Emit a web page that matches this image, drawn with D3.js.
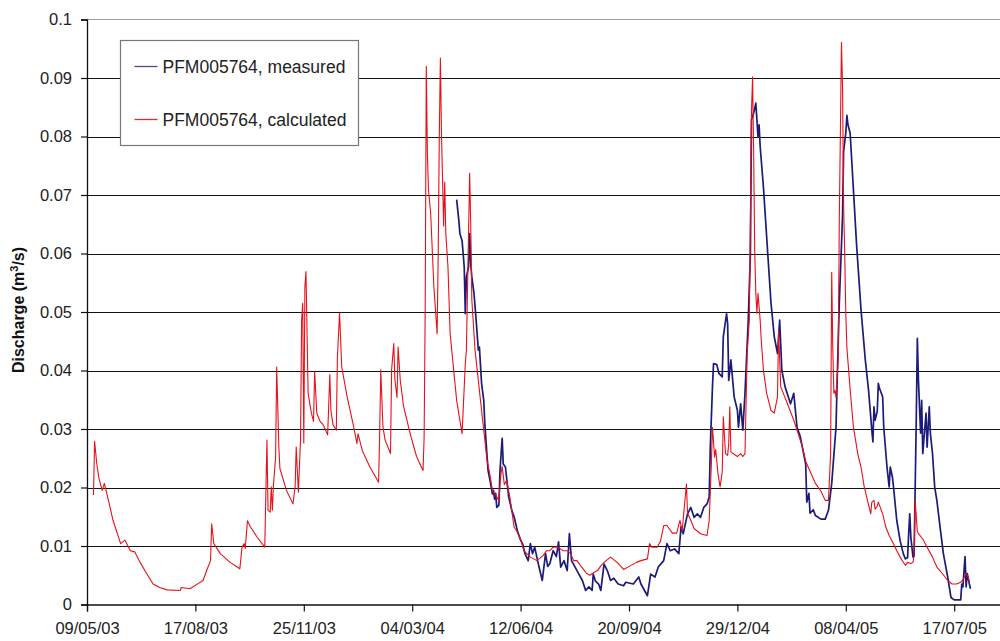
<!DOCTYPE html>
<html>
<head>
<meta charset="utf-8">
<script src="https://cdn.jsdelivr.net/npm/d3@7"></script>
<style>
  html, body { margin: 0; padding: 0; background: #fff; }
  svg { display: block; font-family: "Liberation Sans", Arial, sans-serif; }
</style>
</head>
<body>
<div id="chart"></div>
<script>
// Chart data
// x values are days since 09/05/03
const startLabel = '09/05/03';
const xTickLabels = ['09/05/03', '17/08/03', '25/11/03', '04/03/04', '12/06/04',
  '20/09/04', '29/12/04', '08/04/05', '17/07/05'];
const axisEndDay = 900; // axis runs on past the right edge of the picture
const yTicks = [0, 0.01, 0.02, 0.03, 0.04, 0.05, 0.06, 0.07, 0.08, 0.09, 0.1];
const seriesNames = ['PFM005764, measured', 'PFM005764, calculated'];
const yTitle = 'Discharge (m';

const calcDays = [6, 7, 9, 11, 14, 16, 18, 24, 31, 35, 40, 44, 49, 55, 61, 67, 74, 86, 87, 95,
  101, 107, 111, 114, 115, 117, 123, 132, 141, 143, 145, 146, 148, 151, 157, 164, 166, 167, 169, 170,
  171, 172, 174, 175, 177, 178, 184, 190, 192, 193, 195, 197, 198, 199, 200, 201, 202, 204, 207, 209,
  210, 212, 215, 218, 222, 224, 225, 227, 230, 231, 233, 235, 240, 246, 249, 250, 254, 261, 269, 270,
  271, 273, 275, 280, 281, 283, 284, 286, 287, 289, 292, 298, 304, 310, 311, 312, 313, 314, 315, 317,
  320, 323, 324, 325, 326, 327, 329, 330, 331, 333, 335, 341, 346, 349, 350, 353, 354, 355, 358, 363,
  369, 371, 374, 377, 380, 381, 382, 383, 385, 387, 390, 394, 396, 400, 403, 409, 415, 421, 424, 427,
  430, 434, 437, 439, 443, 446, 449, 452, 455, 458, 461, 464, 468, 471, 474, 477, 483, 489, 492, 495,
  501, 507, 511, 517, 519, 521, 523, 526, 529, 532, 535, 540, 544, 547, 549, 553, 554, 557, 560, 566,
  572, 574, 576, 577, 579, 580, 582, 584, 586, 587, 589, 591, 592, 593, 594, 596, 600, 603, 605, 607,
  609, 611, 612, 613, 614, 615, 616, 617, 618, 619, 621, 622, 624, 627, 631, 634, 637, 638, 640, 646,
  652, 655, 660, 663, 666, 672, 677, 681, 684, 686, 687, 688, 689, 690, 691, 693, 694, 695, 696, 697,
  698, 699, 700, 701, 704, 707, 711, 714, 717, 723, 724, 726, 727, 729, 730, 734, 737, 740, 744, 747,
  752, 755, 757, 760, 762, 763, 764, 766, 767, 771, 775, 780, 784, 789, 794, 798, 802, 806, 808, 811,
  813, 814];
const calcValues = [0.0187, 0.0279, 0.0241, 0.0216, 0.0195, 0.0207, 0.0192, 0.0144, 0.0104, 0.011,
  0.0092, 0.009, 0.0072, 0.0053, 0.0035, 0.0029, 0.0025, 0.0024, 0.0029, 0.0027,
  0.0034, 0.0041, 0.0061, 0.0075, 0.0138, 0.0104, 0.0087, 0.0072, 0.0061, 0.0098,
  0.0104, 0.0096, 0.0143, 0.0132, 0.0115, 0.0098, 0.0281, 0.0161, 0.0158, 0.0201,
  0.0161, 0.0204, 0.0252, 0.0406, 0.0268, 0.0232, 0.0195, 0.0172, 0.0201, 0.0269,
  0.0192, 0.0282, 0.0486, 0.0515, 0.0276, 0.0543, 0.0569, 0.0361, 0.0327, 0.0313,
  0.0398, 0.0327, 0.0313, 0.0307, 0.029, 0.0393, 0.0332, 0.0307, 0.0298, 0.0423,
  0.0498, 0.0406, 0.0355, 0.0304, 0.0275, 0.0292, 0.0263, 0.0235, 0.0209, 0.0293,
  0.0401, 0.0304, 0.0281, 0.0258, 0.0401, 0.0446, 0.0385, 0.0354, 0.044, 0.0383,
  0.0339, 0.0293, 0.0253, 0.0229, 0.0286, 0.0508, 0.092, 0.0771, 0.0709, 0.067,
  0.0543, 0.0463, 0.06, 0.08, 0.0934, 0.0806, 0.0647, 0.0722, 0.0634, 0.0577,
  0.0463, 0.0349, 0.0292, 0.0412, 0.0434, 0.0737, 0.065, 0.0521, 0.0434, 0.0349,
  0.0247, 0.0229, 0.0195, 0.0187, 0.0178, 0.0207, 0.0224, 0.0236, 0.0205, 0.0212,
  0.0185, 0.0132, 0.0127, 0.0112, 0.0092, 0.0081, 0.0075, 0.0084, 0.0092, 0.0092,
  0.0098, 0.0098, 0.0095, 0.0092, 0.0092, 0.0087, 0.0075, 0.0075, 0.0067, 0.006,
  0.0053, 0.005, 0.0055, 0.0058, 0.0066, 0.0072, 0.0081, 0.0072, 0.0066, 0.006,
  0.0066, 0.0072, 0.0075, 0.0078, 0.0104, 0.0098, 0.0098, 0.0098, 0.0108, 0.0135,
  0.0135, 0.0122, 0.0122, 0.0144, 0.0125, 0.0206, 0.0156, 0.0144, 0.013, 0.0121,
  0.0118, 0.0144, 0.0241, 0.0303, 0.0252, 0.0265, 0.0225, 0.0201, 0.0226, 0.0321,
  0.0258, 0.0255, 0.0275, 0.0338, 0.0261, 0.0258, 0.0253, 0.0258, 0.0253, 0.0258,
  0.0429, 0.0486, 0.0658, 0.0842, 0.0902, 0.0771, 0.0602, 0.0532, 0.0498, 0.0532,
  0.0486, 0.0452, 0.0401, 0.0361, 0.0332, 0.0327, 0.0355, 0.0469, 0.0372, 0.0344,
  0.0315, 0.0298, 0.0269, 0.0245, 0.0232, 0.0207, 0.0194, 0.0178, 0.0178, 0.0258,
  0.0568, 0.0437, 0.0361, 0.0366, 0.0354, 0.0419, 0.0658, 0.0806, 0.0961, 0.0885,
  0.068, 0.06, 0.0497, 0.0439, 0.0368, 0.0304, 0.0258, 0.0235, 0.0201, 0.0155,
  0.0175, 0.0178, 0.0163, 0.0168, 0.0175, 0.0155, 0.0132, 0.0118, 0.0104, 0.0092,
  0.0075, 0.0067, 0.0072, 0.007, 0.0072, 0.0085, 0.0178, 0.0125, 0.0121, 0.0112,
  0.0098, 0.0081, 0.0064, 0.0053, 0.0041, 0.0035, 0.0035, 0.0038, 0.0042, 0.0053,
  0.0047, 0.0037];

const measDays = [341, 343, 344, 346, 347, 348, 349, 350, 352, 353, 354, 355, 357, 359, 361, 362, 364, 366, 367, 369,
  370, 372, 374, 375, 376, 377, 378, 380, 381, 383, 384, 386, 389, 392, 394, 397, 400, 402, 404, 407,
  409, 411, 413, 417, 420, 423, 425, 427, 430, 433, 435, 437, 440, 443, 445, 447, 449, 452, 457, 460,
  463, 466, 467, 469, 472, 474, 477, 480, 483, 486, 490, 495, 497, 504, 509, 511, 517, 520, 524, 527,
  532, 535, 538, 542, 546, 548, 550, 554, 557, 560, 563, 566, 569, 572, 574, 575, 577, 578, 581, 583,
  586, 587, 590, 591, 592, 594, 597, 600, 601, 603, 605, 607, 610, 612, 613, 615, 617, 619, 620, 621,
  624, 626, 628, 631, 634, 637, 639, 641, 644, 649, 652, 655, 658, 663, 664, 666, 667, 670, 672, 677,
  681, 684, 687, 691, 692, 694, 697, 698, 700, 701, 702, 704, 707, 710, 714, 718, 721, 724, 725, 726,
  727, 729, 730, 731, 734, 735, 738, 740, 741, 743, 744, 747, 750, 753, 755, 757, 758, 759, 760, 762,
  763, 765, 766, 767, 769, 770, 771, 774, 775, 777, 778, 780, 782, 784, 787, 790, 794, 797, 800, 804,
  806, 807, 808, 810, 811, 812, 814, 815];
const measValues = [0.0692, 0.0657, 0.0634, 0.0622, 0.06, 0.0577, 0.0497, 0.056, 0.0577, 0.0634,
  0.0583, 0.056, 0.0532, 0.0486, 0.0435, 0.044, 0.0378, 0.0349, 0.0309, 0.0255,
  0.0229, 0.021, 0.0189, 0.0195, 0.018, 0.019, 0.0166, 0.017, 0.0229, 0.0284,
  0.024, 0.0235, 0.0184, 0.016, 0.015, 0.0126, 0.011, 0.0103, 0.0087, 0.0075,
  0.0104, 0.0087, 0.0098, 0.0064, 0.0041, 0.0087, 0.0065, 0.007, 0.0092, 0.0082,
  0.0107, 0.0064, 0.0075, 0.0058, 0.0121, 0.0075, 0.0068, 0.0058, 0.0041, 0.0024,
  0.003, 0.0024, 0.0052, 0.004, 0.0035, 0.0024, 0.0069, 0.0058, 0.0041, 0.0045,
  0.0035, 0.0032, 0.0038, 0.0035, 0.0047, 0.0035, 0.0015, 0.0052, 0.0047, 0.0064,
  0.0075, 0.0104, 0.0092, 0.0095, 0.0087, 0.0133, 0.0121, 0.0155, 0.0166, 0.0149,
  0.0155, 0.0149, 0.0166, 0.0172, 0.0184, 0.0269, 0.0372, 0.0412, 0.041, 0.0395,
  0.0389, 0.0458, 0.0497, 0.048, 0.0383, 0.0418, 0.0355, 0.0332, 0.0303, 0.0343,
  0.0298, 0.0361, 0.0486, 0.06, 0.0829, 0.084, 0.0857, 0.08, 0.082, 0.0783,
  0.0714, 0.0657, 0.06, 0.0515, 0.0458, 0.0429, 0.0486, 0.04, 0.0372, 0.0343,
  0.0361, 0.0303, 0.0287, 0.024, 0.0175, 0.019, 0.0156, 0.0162, 0.0152, 0.0146,
  0.0146, 0.0161, 0.0207, 0.0304, 0.0381, 0.0516, 0.0664, 0.0775, 0.0806, 0.0836,
  0.082, 0.0806, 0.071, 0.0613, 0.0505, 0.0418, 0.0366, 0.0298, 0.0278, 0.0338,
  0.0315, 0.033, 0.0378, 0.037, 0.0355, 0.0303, 0.0235, 0.0201, 0.0235, 0.0218,
  0.0201, 0.0144, 0.011, 0.0087, 0.0078, 0.008, 0.0121, 0.0155, 0.0115, 0.0081,
  0.0083, 0.0315, 0.0455, 0.0384, 0.0293, 0.0349, 0.0258, 0.0327, 0.0269, 0.0338,
  0.0293, 0.0258, 0.0201, 0.0178, 0.0132, 0.0087, 0.0047, 0.0012, 0.0008, 0.0008,
  0.0008, 0.0035, 0.003, 0.0082, 0.003, 0.0053, 0.0035, 0.0027];

// Layout
const width = 1000,
  height = 641;
const plotLeft = 87,
  plotTop = 19.5,
  plotBottom = 604.5;
const pxPerDay = 1.084;

const parse = d3.utcParse('%d/%m/%y');
const t0 = parse(startLabel);
const xTicks = xTickLabels.map(parse);
const xEnd = d3.utcDay.offset(t0, axisEndDay);

const x = d3
  .scaleUtc()
  .domain([t0, xEnd])
  .range([plotLeft, plotLeft + pxPerDay * axisEndDay]);
const y = d3.scaleLinear().domain([0, 0.1]).range([plotBottom, plotTop]);

const calc = calcDays.map((d, i) => [d3.utcDay.offset(t0, d), calcValues[i]]);
const meas = measDays.map((d, i) => [d3.utcDay.offset(t0, d), measValues[i]]);

const svg = d3
  .select('#chart')
  .append('svg')
  .attr('xmlns', 'http://www.w3.org/2000/svg')
  .attr('width', width)
  .attr('height', height);

// top border of plot area (grey)
svg
  .append('line')
  .attr('x1', plotLeft)
  .attr('x2', width)
  .attr('y1', y(0.1))
  .attr('y2', y(0.1))
  .attr('stroke', '#a0a0a0')
  .attr('stroke-width', 1.2);

// horizontal gridlines
svg
  .append('g')
  .selectAll('line')
  .data(yTicks.filter((v) => v > 0 && v < 0.1))
  .join('line')
  .attr('x1', plotLeft)
  .attr('x2', width)
  .attr('y1', (d) => Math.round(y(d)) + 0.5)
  .attr('y2', (d) => Math.round(y(d)) + 0.5)
  .attr('stroke', '#111')
  .attr('stroke-width', 1.2);

// y axis
const yAxis = svg
  .append('g')
  .attr('transform', `translate(${plotLeft},0)`)
  .call(
    d3
      .axisLeft(y)
      .tickValues(yTicks)
      .tickSize(6)
      .tickPadding(9)
      .tickFormat((d) => String(+d.toFixed(2)))
  );
yAxis.select('.domain').attr('stroke', '#111').attr('stroke-width', 1.3);
yAxis.selectAll('.tick line').attr('stroke', '#111').attr('stroke-width', 1.2);
yAxis
  .selectAll('.tick text')
  .attr('font-size', 16.5)
  .attr('fill', '#222')
  .attr('font-family', '"Liberation Sans", Arial, sans-serif');

// x axis
const xAxis = svg
  .append('g')
  .attr('transform', `translate(0,${plotBottom})`)
  .call(
    d3
      .axisBottom(x)
      .tickValues(xTicks)
      .tickSize(7)
      .tickPadding(11)
      .tickFormat(d3.utcFormat('%d/%m/%y'))
  );
xAxis.select('.domain').attr('stroke', '#111').attr('stroke-width', 1.3);
xAxis.selectAll('.tick line').attr('stroke', '#111').attr('stroke-width', 1.2);
xAxis
  .selectAll('.tick text')
  .attr('font-size', 16.5)
  .attr('fill', '#222')
  .attr('font-family', '"Liberation Sans", Arial, sans-serif');

// y title
const title = svg
  .append('text')
  .attr('transform', `translate(24,310) rotate(-90)`)
  .attr('text-anchor', 'middle')
  .attr('font-size', 16)
  .attr('font-weight', 'bold')
  .attr('fill', '#111');
title.append('tspan').text(yTitle);
title.append('tspan').attr('dy', -6).attr('font-size', 11).text('3');
title.append('tspan').attr('dy', 6).text('/s)');

// series
const line = d3
  .line()
  .x((d) => x(d[0]))
  .y((d) => y(d[1]));

svg
  .append('path')
  .datum(meas)
  .attr('d', line)
  .attr('fill', 'none')
  .attr('stroke', '#1c1c78')
  .attr('stroke-width', 1.7)
  .attr('stroke-linejoin', 'round');

svg
  .append('path')
  .datum(calc)
  .attr('d', line)
  .attr('fill', 'none')
  .attr('stroke', '#e8101a')
  .attr('stroke-width', 1.1)
  .attr('stroke-linejoin', 'round');

// legend
const legend = svg.append('g').attr('transform', 'translate(120.5,40.5)');
legend
  .append('rect')
  .attr('width', 238)
  .attr('height', 105)
  .attr('fill', '#fff')
  .attr('stroke', '#777')
  .attr('stroke-width', 1.2);

const legendColors = ['#4a4a8a', '#d83040'];
const item = legend
  .selectAll('g.item')
  .data(seriesNames)
  .join('g')
  .attr('class', 'item')
  .attr('transform', (d, i) => `translate(0,${26 + i * 53})`);
item
  .append('line')
  .attr('x1', 14)
  .attr('x2', 37)
  .attr('stroke', (d, i) => legendColors[i])
  .attr('stroke-width', 1.3);
item
  .append('text')
  .attr('x', 42)
  .attr('dy', '0.35em')
  .attr('font-size', 17.5)
  .attr('fill', '#222')
  .text((d) => d);
</script>
</body>
</html>
